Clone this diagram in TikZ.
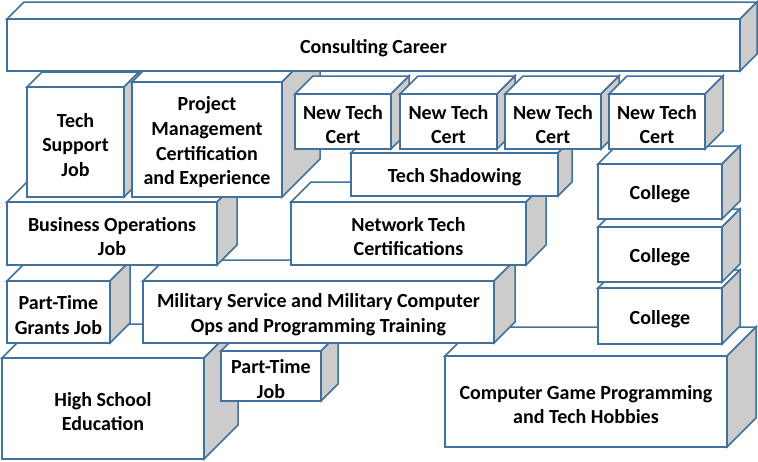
\documentclass[tikz,border=0pt]{standalone}
\usepackage{fontspec}
\setmainfont{Carlito}
\definecolor{bluegray}{RGB}{65,113,156}
\definecolor{sidegray}{RGB}{204,204,204}
\tikzset{
  boxline/.style={draw=bluegray, line width=1.5pt},
  topface/.style={boxline, fill=white},
  sideface/.style={boxline, fill=sidegray},
  frontface/.style={boxline, fill=white, rectangle, inner sep=0pt},
  boxtext/.style={inner sep=0pt, align=center,
    font=\bfseries\fontsize{20}{24.7}\selectfont, text=black},
}
% #1 name, #2 x1, #3 y1, #4 x2, #5 y2, #6 depth, #7 text
\newcommand\cuboid[7]{%
  \filldraw[topface] (#2,#3) -- (#2+#6,#3-#6) -- (#4+#6,#3-#6) -- (#4,#3) -- cycle;
  \filldraw[sideface] (#4,#3) -- (#4+#6,#3-#6) -- (#4+#6,#5-#6) -- (#4,#5) -- cycle;
  \node[frontface, minimum width={(#4-#2)*1pt}, minimum height={(#5-#3)*1pt}]
    (#1) at ({(#2+#4)/2},{(#3+#5)/2}) {};
  \node[boxtext] (#1-text) at ([yshift=-3pt]#1.center) {#7};
}
\begin{document}
\begin{tikzpicture}[x=1pt, y=-1pt]
\useasboundingbox (0,0) rectangle (758,461);
\cuboid{hs}{2}{358}{204}{459}{34}{High School\\Education}
\cuboid{ptj}{221}{351}{321}{401}{17}{Part-Time\\Job}
\cuboid{cgp}{445}{356}{727}{447}{29}{Computer Game Programming\\and Tech Hobbies}
\cuboid{ptg}{7}{281}{110}{343}{20}{Part-Time\\Grants Job}
\cuboid{mil}{143}{281}{494}{343}{21}{Military Service and Military Computer\\Ops and Programming Training}
\cuboid{col3}{598}{288}{722}{344}{18}{College}
\cuboid{col2}{598}{227}{722}{282}{18}{College}
\cuboid{col1}{598}{164}{722}{219}{18}{College}
\cuboid{bus}{7}{202}{217}{265}{20}{Business Operations\\Job}
\cuboid{net}{291}{202}{526}{265}{20}{Network Tech\\Certifications}
\cuboid{shad}{351}{153}{558}{196}{14}{Tech Shadowing}
\cuboid{tsj}{27}{87}{124}{197}{15}{Tech\\Support\\Job}
\cuboid{pm}{132}{82}{282}{197}{38}{Project\\Management\\Certification\\and Experience}
\cuboid{cert1}{295}{94}{391}{149}{18}{New Tech\\Cert}
\cuboid{cert2}{400}{94}{497}{149}{18}{New Tech\\Cert}
\cuboid{cert3}{505}{94}{601}{149}{18}{New Tech\\Cert}
\cuboid{cert4}{609}{94}{705}{149}{18}{New Tech\\Cert}
\cuboid{cons}{7}{19}{740}{71}{17}{Consulting Career}
\end{tikzpicture}
\end{document}
